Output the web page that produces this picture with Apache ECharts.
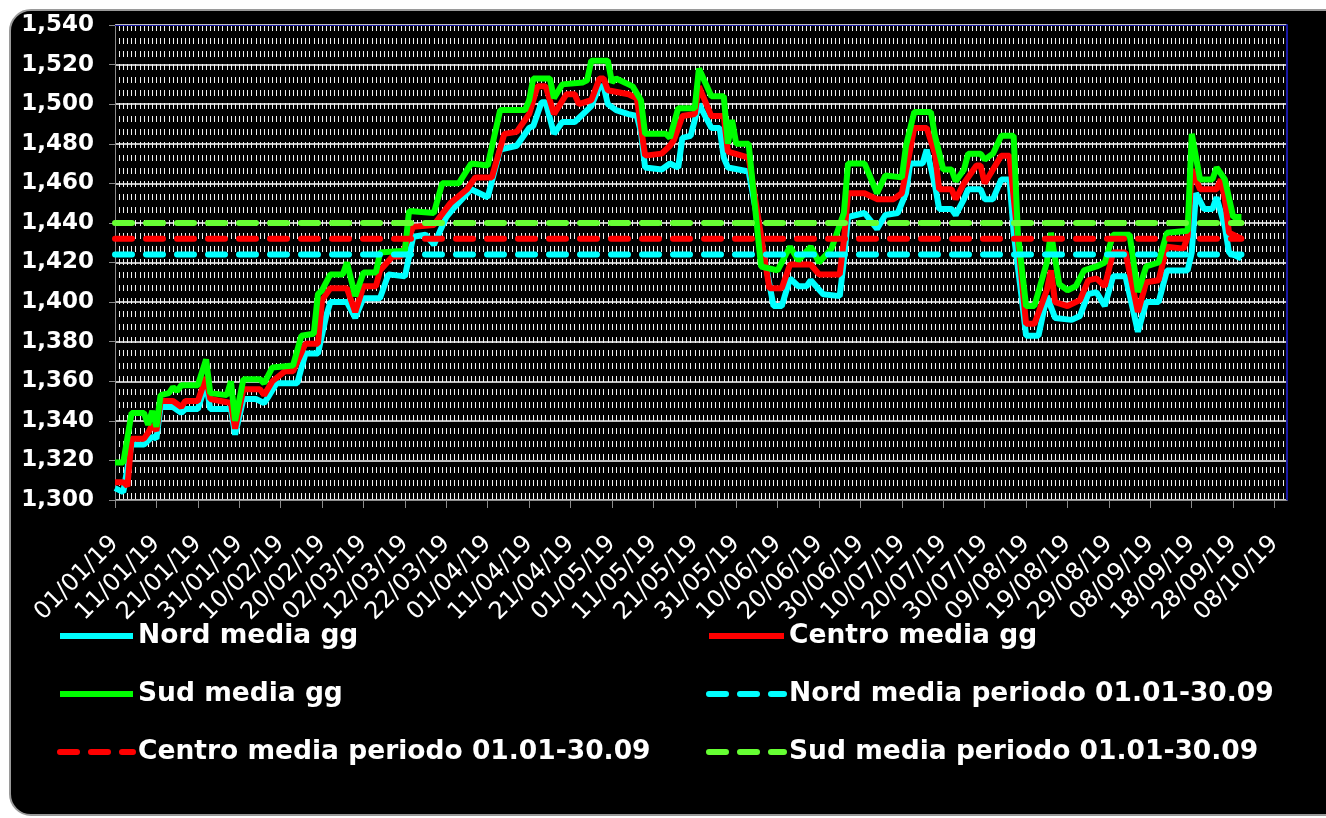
<!DOCTYPE html>
<html>
<head>
<meta charset="utf-8">
<script src="https://cdn.jsdelivr.net/npm/echarts@6/dist/echarts.min.js"></script>
<style>
  html, body { margin: 0; padding: 0; background: #fff; }
  #frame {
    position: absolute; left: 9px; top: 9px; width: 1340px; height: 803px;
    background: #000; border: 2px solid #9a9a9a; border-radius: 22px;
  }
  #chart { position: absolute; left: 0; top: 0; width: 1326px; height: 818px; }
</style>
</head>
<body>
<div id="frame"></div>
<div id="chart"></div>
<script>
// day offset from 01/01/19, value
const nordPts = [[0,1306],[2,1304],[4,1328],[7,1328],[8,1330],[9,1332],[10,1331],[11,1347],[14,1347],[16,1344],[17,1346],[20,1346],[22,1359],[23,1346],[28,1346],[29,1333],[31,1351],[34,1351],[36,1349],[37,1352],[39,1359],[44,1359],[46,1374],[49,1374],[51,1393],[52,1400],[56,1400],[58,1392],[60,1402],[64,1402],[66,1414],[70,1413],[72,1433],[75,1434],[77,1429],[80,1443],[82,1448],[86,1457],[90,1453],[93,1477],[97,1479],[100,1488],[101,1489],[103,1501],[104,1501],[106,1485],[108,1491],[111,1491],[114,1497],[115,1499],[117,1509],[118,1509],[119,1500],[121,1497],[124,1495],[126,1494],[127,1486],[128,1468],[132,1467],[134,1470],[136,1468],[137,1483],[139,1484],[141,1500],[144,1488],[146,1488],[147,1473],[148,1468],[153,1466],[159,1398],[161,1398],[163,1412],[165,1408],[167,1408],[168,1411],[171,1404],[175,1403],[176,1421],[177,1443],[181,1445],[184,1437],[186,1444],[189,1445],[191,1455],[192,1470],[195,1470],[196,1477],[198,1459],[199,1447],[202,1447],[203,1444],[205,1452],[206,1457],[209,1457],[210,1452],[212,1452],[214,1462],[216,1462],[217,1435],[219,1401],[220,1383],[223,1383],[225,1403],[227,1392],[231,1391],[233,1393],[235,1404],[237,1405],[239,1398],[241,1413],[244,1413],[247,1385],[249,1400],[252,1400],[254,1416],[259,1416],[260,1425],[261,1455],[263,1447],[265,1447],[266,1453],[268,1438],[269,1425],[272,1422]];
const centroPts = [[0,1309],[2,1309],[3,1307],[4,1331],[7,1331],[8,1334],[9,1338],[10,1335],[11,1350],[14,1350],[16,1347],[17,1350],[20,1350],[22,1362],[23,1351],[28,1349],[29,1336],[31,1356],[35,1356],[36,1353],[38,1360],[41,1365],[43,1365],[46,1379],[49,1379],[50,1401],[52,1407],[56,1407],[58,1395],[60,1408],[63,1408],[64,1416],[67,1423],[69,1423],[72,1438],[77,1439],[81,1450],[85,1457],[87,1463],[91,1463],[94,1485],[97,1486],[100,1495],[102,1509],[104,1509],[106,1495],[109,1505],[111,1505],[112,1500],[115,1502],[117,1513],[118,1513],[119,1507],[124,1505],[126,1503],[128,1474],[132,1475],[134,1479],[135,1482],[137,1494],[140,1495],[141,1509],[144,1494],[147,1494],[148,1476],[153,1473],[158,1407],[161,1407],[163,1419],[168,1419],[170,1414],[175,1414],[176,1431],[177,1455],[181,1455],[184,1452],[188,1452],[190,1455],[192,1477],[193,1488],[196,1488],[198,1475],[199,1457],[202,1457],[203,1452],[205,1460],[208,1469],[209,1469],[210,1460],[212,1467],[214,1474],[216,1474],[218,1432],[220,1389],[222,1389],[225,1406],[226,1416],[227,1400],[230,1398],[233,1401],[235,1411],[237,1412],[239,1408],[241,1425],[244,1425],[247,1395],[249,1410],[252,1411],[254,1428],[258,1427],[259,1433],[260,1467],[262,1457],[266,1457],[267,1462],[268,1452],[269,1435],[272,1432]];
const sudPts = [[0,1319],[2,1319],[4,1344],[7,1344],[8,1338],[9,1345],[10,1337],[11,1353],[13,1354],[14,1357],[15,1355],[16,1358],[20,1358],[22,1371],[23,1354],[27,1353],[28,1360],[29,1340],[31,1361],[35,1361],[36,1359],[37,1363],[38,1367],[43,1368],[45,1383],[48,1384],[49,1404],[50,1406],[52,1414],[55,1414],[56,1420],[58,1403],[60,1415],[63,1415],[64,1425],[70,1426],[71,1446],[77,1445],[79,1460],[83,1460],[86,1470],[90,1469],[93,1497],[99,1497],[100,1502],[101,1513],[105,1513],[106,1503],[108,1510],[113,1511],[114,1512],[115,1522],[119,1522],[120,1511],[121,1513],[124,1510],[125,1509],[127,1502],[128,1485],[133,1485],[134,1483],[136,1498],[140,1498],[141,1518],[144,1504],[147,1504],[148,1480],[149,1492],[150,1480],[153,1480],[156,1418],[160,1416],[163,1428],[165,1421],[168,1428],[170,1420],[173,1427],[176,1445],[177,1470],[181,1470],[184,1455],[186,1464],[190,1463],[191,1479],[193,1496],[197,1496],[198,1484],[200,1467],[202,1467],[203,1461],[205,1467],[206,1475],[209,1475],[210,1472],[212,1475],[214,1484],[217,1484],[218,1435],[220,1398],[222,1398],[225,1420],[226,1435],[228,1409],[230,1406],[232,1408],[234,1416],[237,1418],[239,1420],[241,1434],[245,1434],[247,1405],[249,1418],[252,1420],[254,1435],[259,1436],[260,1485],[262,1462],[265,1462],[266,1468],[268,1462],[270,1443],[272,1443]];

// period averages 01.01-30.09 (day 0 .. day 272)
const periodDays = [0, 272];
const nordAvg = [1424, 1424];
const centroAvg = [1432, 1432];
const sudAvg = [1440, 1440];

const seriesNames = [
  "Nord media gg",
  "Centro media gg",
  "Sud media gg",
  "Nord media periodo 01.01-30.09",
  "Centro media periodo 01.01-30.09",
  "Sud media periodo 01.01-30.09",
];
const seriesColors = ["#00ffff", "#ff0000", "#00ff00", "#00ffff", "#ff0000", "#66ff33"];

function dayLabel(d) {
  const dt = new Date(2019, 0, 1 + d);
  const p = (n) => String(n).padStart(2, "0");
  return p(dt.getDate()) + "/" + p(dt.getMonth() + 1) + "/" + p(dt.getFullYear() % 100);
}

const daily = [nordPts, centroPts, sudPts];
const avgs = [nordAvg, centroAvg, sudAvg];
const series = seriesNames.map((name, i) => ({
  name: name,
  type: "line",
  symbol: "none",
  data: i < 3 ? daily[i] : periodDays.map((d, j) => [d, avgs[i - 3][j]]),
  lineStyle: i < 3
    ? { color: seriesColors[i], width: 6 }
    : { color: seriesColors[i], width: 6, type: [17, 14], cap: "round" },
  itemStyle: { color: seriesColors[i] },
}));

const legendBase = {
  orient: "vertical",
  top: 622,
  padding: 0,
  itemHeight: 14,
  itemGap: 30,
  textStyle: { color: "#fff", fontSize: 26.5, fontWeight: "bold", fontFamily: "DejaVu Sans", lineHeight: 28 },
  itemStyle: { opacity: 0 },
  lineStyle: { width: 6 },
};

let mychart = echarts.init(document.getElementById("chart"));
const option = {
  animation: false,
  grid: { left: 115, top: 25, right: 39, bottom: 318 },
  legend: [
    Object.assign({}, legendBase, { left: 57, itemWidth: 73, data: [seriesNames[0], seriesNames[2], seriesNames[4]] }),
    Object.assign({}, legendBase, { left: 706, itemWidth: 75, data: [seriesNames[1], seriesNames[3], seriesNames[5]] }),
  ],
  xAxis: [
    {
      type: "value",
      min: 0,
      max: 283,
      interval: 10,
      axisLine: { show: true, onZero: false, lineStyle: { color: "#8c8c8c" } },
      axisTick: { show: true, length: 8, lineStyle: { color: "#8c8c8c" } },
      axisLabel: {
        rotate: 45,
        color: "#fff",
        fontSize: 24,
        fontFamily: "DejaVu Sans",
        margin: 40,
        showMaxLabel: false,
        formatter: (v) => dayLabel(v),
      },
      // dotted daily grid
      splitLine: { show: true, lineStyle: { color: "#f0f0f0", width: 1, type: [6, 7] } },
      minorTick: { show: false, splitNumber: 10 },
      minorSplitLine: { show: true, lineStyle: { color: "#f0f0f0", width: 1, type: [6, 7] } },
    },
    {
      // top border of the plot
      type: "value",
      position: "top",
      min: 0,
      max: 283,
      axisLine: { show: true, onZero: false, lineStyle: { color: "#1a1aa8", width: 1 } },
      axisTick: { show: false },
      axisLabel: { show: false },
      splitLine: { show: false },
    },
  ],
  yAxis: [
    {
      type: "value",
      min: 1300,
      max: 1540,
      interval: 20,
      axisLine: { show: true, onZero: false, lineStyle: { color: "#8c8c8c" } },
      axisTick: { show: true, length: 6, lineStyle: { color: "#8c8c8c" } },
      axisLabel: {
        color: "#fff",
        fontSize: 23,
        fontWeight: "bold",
        fontFamily: "DejaVu Sans",
        margin: 21,
        formatter: (v) => v.toLocaleString("en-US"),
      },
      splitLine: { show: true, lineStyle: { color: "#fff", width: 1.5 } },
    },
    {
      // right border of the plot
      type: "value",
      position: "right",
      min: 1300,
      max: 1540,
      axisLine: { show: true, onZero: false, lineStyle: { color: "#1a1aa8", width: 2 } },
      axisTick: { show: false },
      axisLabel: { show: false },
      splitLine: { show: false },
    },
  ],
  series: series,
};
mychart.setOption(option);
</script>
</body>
</html>
